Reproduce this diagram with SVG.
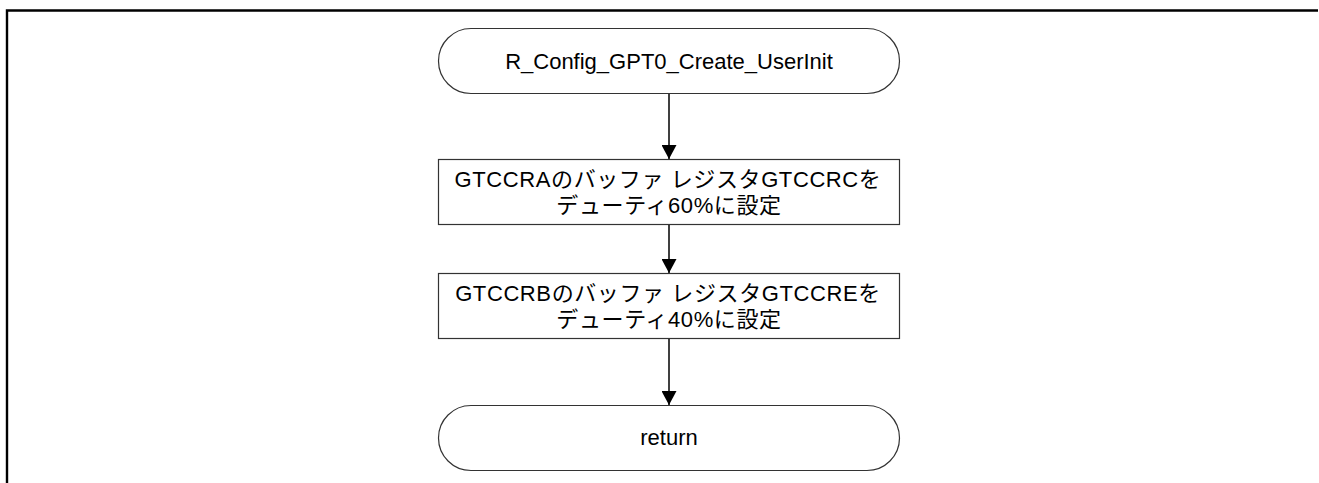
<svg xmlns="http://www.w3.org/2000/svg" width="1319" height="483" viewBox="0 0 1319 483">
<style>
.shape{fill:#fff;stroke:#333;stroke-width:1.2}
.t{font-family:"Liberation Sans","Noto Sans CJK JP",sans-serif;font-size:22px;fill:#000;text-anchor:middle}
.j{letter-spacing:0.6px}
.c{stroke:#000;stroke-width:1.5;fill:none}
.frame{stroke:#000;stroke-width:2.4;fill:none}
</style>
<defs>
<marker id="ah" viewBox="0 0 14 15" refX="14" refY="7.5" markerWidth="14" markerHeight="15" markerUnits="userSpaceOnUse" orient="auto">
<path d="M0,0 L14,7.5 L0,15 Z" fill="#000"/>
</marker>
</defs>
<path class="frame" d="M7,483 V10.5 H1318"/>
<g id="start">
<rect class="shape" x="438.5" y="28.5" width="461" height="65" rx="32.5" ry="32.5"/>
<text class="t" x="669" y="69">R_Config_GPT0_Create_UserInit</text>
</g>
<g id="step1">
<rect class="shape" x="438.5" y="159.5" width="461" height="65"/>
<text class="t j" x="668" y="186.5">GTCCRAのバッファ レジスタGTCCRCを</text>
<text class="t j" x="669" y="212.5">デューティ60%に設定</text>
</g>
<g id="step2">
<rect class="shape" x="438.5" y="273.5" width="461" height="65"/>
<text class="t j" x="668" y="300.5">GTCCRBのバッファ レジスタGTCCREを</text>
<text class="t j" x="669" y="326.5">デューティ40%に設定</text>
</g>
<g id="end">
<rect class="shape" x="438.5" y="405.5" width="461" height="65" rx="32.5" ry="32.5"/>
<text class="t" x="669" y="445">return</text>
</g>
<g id="connectors">
<line class="c" x1="669" y1="94" x2="669" y2="159" marker-end="url(#ah)"/>
<line class="c" x1="669" y1="225" x2="669" y2="273" marker-end="url(#ah)"/>
<line class="c" x1="669" y1="339" x2="669" y2="405" marker-end="url(#ah)"/>
</g>
</svg>
